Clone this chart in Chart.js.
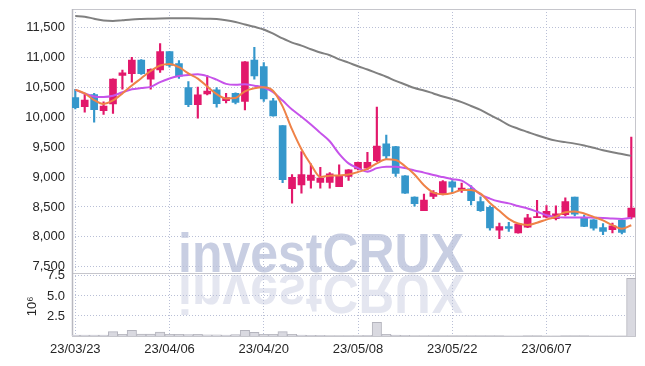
<!DOCTYPE html>
<html><head><meta charset="utf-8">
<script src="https://cdn.jsdelivr.net/npm/chart.js@4.4.0/dist/chart.umd.min.js"></script>
<style>html,body{margin:0;padding:0;background:#fff;}canvas{display:block;}</style>
</head><body>
<canvas id="c" width="645" height="366"></canvas>
<script>
const dates = ['23/03/23','23/03/24','23/03/27','23/03/28','23/03/29','23/03/30','23/03/31','23/04/03','23/04/04','23/04/05',
'23/04/06','23/04/07','23/04/10','23/04/11','23/04/12','23/04/13','23/04/14','23/04/17','23/04/18','23/04/19',
'23/04/20','23/04/21','23/04/24','23/04/25','23/04/26','23/04/27','23/04/28','23/05/02','23/05/03','23/05/04',
'23/05/08','23/05/09','23/05/10','23/05/11','23/05/12','23/05/15','23/05/16','23/05/17','23/05/18','23/05/19',
'23/05/22','23/05/23','23/05/24','23/05/25','23/05/26','23/05/30','23/05/31','23/06/01','23/06/02','23/06/05',
'23/06/07','23/06/08','23/06/09','23/06/12','23/06/13','23/06/14','23/06/15','23/06/16','23/06/19','23/06/20'];
const tickIdx = [0,10,20,30,40,50];
const priceTicks = [7500,8000,8500,9000,9500,10000,10500,11000,11500];
const volumeTicks = [2.5,5.0,7.5];
const open  = [10330,10180,10380,10110,10225,10700,10730,10960,10640,10795,
11100,10900,10500,10210,10390,10460,10280,10400,10265,10960,
10850,10275,9860,8805,8870,8945,8910,8910,8840,9010,
9135,9150,9275,9555,9510,9020,8665,8440,8675,8712,
8920,8775,8805,8590,8495,8110,8170,8065,8160,8320,
8330,8305,8370,8665,8315,8285,8155,8120,8275,8330];
const high  = [10470,10400,10400,10260,10645,10790,11005,10965,10810,11235,
11100,10950,10600,10505,10700,10500,10400,10410,10935,11170,
10915,10320,9860,9040,9425,9220,9165,9075,9205,9125,
9250,9415,10170,9705,9515,9025,8670,8715,8775,8940,
8940,8900,8860,8670,8520,8230,8245,8220,8375,8610,
8525,8520,8655,8665,8365,8290,8220,8230,8285,9670];
const low   = [10140,10085,9920,10050,10065,10470,10590,10720,10470,10750,
10840,10650,10180,9985,10375,10170,10240,10225,10125,10640,
10265,10020,8905,8565,8730,8815,8815,8815,8840,8945,
9120,9120,9260,9300,9010,8725,8515,8440,8640,8700,
8730,8745,8535,8425,8110,7970,8090,8060,8155,8320,
8315,8285,8350,8350,8170,8110,8035,8065,8050,8300];
const close = [10160,10290,10130,10190,10640,10745,10960,10730,10805,11100,
10870,10690,10210,10375,10440,10230,10330,10250,10930,10695,
10310,10025,8955,8998,9040,9035,8985,9055,9020,9120,
9245,9245,9520,9355,9060,8730,8555,8615,8740,8925,
8830,8815,8605,8440,8150,8170,8140,8215,8320,8340,
8425,8385,8590,8380,8175,8145,8090,8185,8075,8480];
const volume = [0.12,0.12,0.12,0.12,0.55,0.2,0.7,0.25,0.25,0.5,
0.2,0.22,0.18,0.2,0.15,0.15,0.12,0.18,0.72,0.45,
0.22,0.22,0.55,0.2,0.12,0.08,0.08,0.06,0.06,0.06,
0.05,0.08,1.7,0.2,0.1,0.08,0.05,0.05,0.05,0.05,
0.04,0.04,0.06,0.06,0.06,0.06,0.03,0.03,0.06,0.06,
0.03,0.03,0.06,0.06,0.06,0.03,0.03,0.03,0.03,7.2];
const ma5 = [10465,10400,10290,10225,10282,10399,10533,10653,10776,10868,
10893,10839,10735,10649,10517,10389,10317,10325,10436,10487,
10503,10442,10183,9797,9466,9211,9003,9023,9027,9043,
9085,9137,9230,9297,9285,9182,9044,8863,8740,8713,
8733,8785,8783,8723,8568,8436,8301,8223,8199,8237,
8288,8337,8412,8424,8391,8335,8276,8195,8134,8195];
const ma20 = [10460,10400,10350,10340,10360,10420,10470,10490,10510,10590,
10650,10690,10710,10720,10690,10630,10560,10545,10555,10530,
10500,10420,10280,10130,10010,9880,9740,9600,9390,9230,
9150,9090,9150,9175,9175,9150,9110,9075,9035,9000,
8965,8940,8840,8710,8640,8590,8560,8515,8475,8420,
8360,8330,8325,8325,8325,8320,8315,8305,8300,8320];
const ma120 = [11695,11685,11650,11620,11612,11625,11638,11645,11650,11655,
11657,11657,11657,11655,11650,11645,11625,11595,11555,11515,
11470,11400,11320,11250,11200,11140,11085,11040,10970,10915,
10855,10800,10740,10680,10610,10550,10490,10450,10400,10350,
10305,10255,10190,10125,10040,9960,9870,9810,9755,9700,
9650,9610,9585,9560,9530,9490,9450,9415,9385,9355];

const FONT = "'Liberation Sans', Arial, sans-serif";
const UP = '#e2186b', DOWN = '#3597cb';
const GRID = '#b9bfd6';
const TXT = '#262626';
const idx = dates.map((d, i) => i);
const cColor = idx.map(i => close[i] >= open[i] ? UP : DOWN);
const pts = arr => idx.map(i => ({x: i, y: arr[i]}));

const watermark = {
  id: 'watermark',
  beforeDraw(chart) {
    const ctx = chart.ctx;
    const txt = 'investCRUX';
    ctx.save();
    ctx.font = "bold 56px 'Liberation Sans', Arial, sans-serif";
    const w = ctx.measureText(txt).width;
    const sx = 286 / w;
    ctx.textBaseline = 'alphabetic';
    ctx.save();
    ctx.translate(178, 272);
    ctx.scale(sx, 1);
    ctx.fillStyle = '#c8cee2';
    ctx.fillText(txt, 0, 0);
    ctx.restore();
    ctx.save();
    ctx.translate(178, 275);
    ctx.scale(sx, -1);
    ctx.fillStyle = '#e4e6f0';
    ctx.fillText(txt, 0, 0);
    ctx.restore();
    ctx.restore();
  }
};
const frame = {
  id: 'frame',
  beforeDatasetsDraw(chart) {
    const {ctx, chartArea: a} = chart;
    const ys = chart.scales.y;
    ctx.save();
    ctx.strokeStyle = '#c6c6cc';
    ctx.lineWidth = 1;
    ctx.strokeRect(a.left + 0.5, a.top + 0.5, a.right - a.left - 1, a.bottom - a.top);
    ctx.beginPath();
    ctx.moveTo(a.left, Math.round(ys.bottom) + 0.5);
    ctx.lineTo(a.right, Math.round(ys.bottom) + 0.5);
    ctx.stroke();
    ctx.strokeStyle = '#b8b8c0';
    ctx.lineWidth = 1.5;
    ctx.beginPath();
    ctx.moveTo(a.left + 0.5, a.top);
    ctx.lineTo(a.left + 0.5, a.bottom);
    ctx.stroke();
    ctx.restore();
  }
};
const volTitle = {
  id: 'volTitle',
  afterDraw(chart) {
    const ctx = chart.ctx;
    const yv = chart.scales.yv;
    ctx.save();
    ctx.translate(32, (yv.top + yv.bottom) / 2 + 2);
    ctx.rotate(-Math.PI / 2);
    ctx.fillStyle = TXT;
    ctx.font = "13px " + FONT;
    ctx.textAlign = 'center';
    ctx.textBaseline = 'middle';
    ctx.fillText('10\u2076', 0, 0);
    ctx.restore();
  }
};
const fitY = s => { s.width = 72; s.paddingTop = 0; s.paddingBottom = 0; };

new Chart(document.getElementById('c'), {
  type: 'bar',
  data: {
    datasets: [
      {type: 'line', label: 'MA5', data: pts(ma5), borderColor: '#ef8247', borderWidth: 2, pointRadius: 0, cubicInterpolationMode: 'monotone', yAxisID: 'y', order: 1},
      {type: 'line', label: 'MA20', data: pts(ma20), borderColor: '#c653ea', borderWidth: 2, pointRadius: 0, cubicInterpolationMode: 'monotone', yAxisID: 'y', order: 2},
      {type: 'line', label: 'MA120', data: pts(ma120), borderColor: '#808080', borderWidth: 2, pointRadius: 0, cubicInterpolationMode: 'monotone', yAxisID: 'y', order: 3},
      {type: 'bar', label: 'body', data: idx.map(i => ({x: i, y: [open[i], close[i]]})), backgroundColor: cColor, barThickness: 7, grouped: false, borderSkipped: false, yAxisID: 'y', order: 4},
      {type: 'bar', label: 'wick', data: idx.map(i => ({x: i, y: [low[i], high[i]]})), backgroundColor: cColor, barThickness: 1.5, grouped: false, borderSkipped: false, yAxisID: 'y', order: 5},
      {type: 'bar', label: 'volume', data: pts(volume), backgroundColor: '#d9d9e0', borderColor: '#b4b4bd', borderWidth: 1, barPercentage: 1, categoryPercentage: 1, grouped: false, yAxisID: 'yv', order: 6}
    ]
  },
  options: {
    responsive: false,
    animation: false,
    devicePixelRatio: 1,
    layout: {padding: {left: 0, right: 9, top: 9, bottom: 0}},
    plugins: {legend: {display: false}, tooltip: {enabled: false}},
    scales: {
      x: {
        type: 'linear', min: -0.35, max: 59.5, offset: false,
        afterBuildTicks: s => { s.ticks = tickIdx.map(v => ({value: v})); },
        afterFit: s => { s.height = 30; s.paddingLeft = 0; s.paddingRight = 0; },
        ticks: {callback: v => dates[v], font: {family: FONT, size: 13}, color: TXT, padding: 6, maxRotation: 0, autoSkip: false},
        grid: {color: GRID, drawTicks: false, offset: false},
        border: {display: false, dash: [1, 2]}
      },
      y: {
        type: 'linear', position: 'left', stack: 'p', stackWeight: 4.166, weight: 2,
        min: 7400, max: 11813,
        afterBuildTicks: s => { s.ticks = priceTicks.map(v => ({value: v})); },
        afterFit: fitY,
        ticks: {callback: v => v.toLocaleString('en-US'), font: {family: FONT, size: 13}, color: TXT, padding: 7, autoSkip: false},
        grid: {color: GRID, drawTicks: false},
        border: {display: false, dash: [1, 2]}
      },
      yv: {
        type: 'linear', position: 'left', stack: 'p', stackWeight: 1, weight: 1,
        min: 0, max: 7.9,
        afterBuildTicks: s => { s.ticks = volumeTicks.map(v => ({value: v})); },
        afterFit: fitY,
        ticks: {callback: v => v.toFixed(1), font: {family: FONT, size: 13}, color: TXT, padding: 7, autoSkip: false},
        grid: {color: GRID, drawTicks: false},
        border: {display: false, dash: [1, 2]}
      }
    }
  },
  plugins: [watermark, frame, volTitle]
});
</script>
</body></html>
